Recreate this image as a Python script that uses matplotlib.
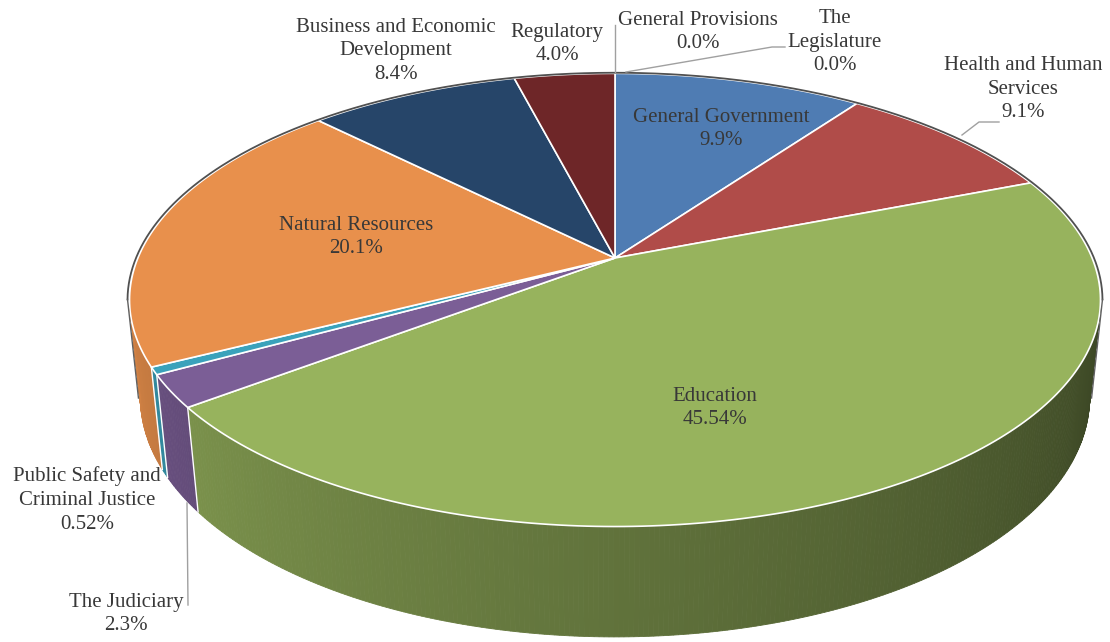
import numpy as np
import matplotlib.pyplot as plt
from matplotlib.patches import Polygon

# Udziały poszczególnych obszarów (kolejność zgodnie z ruchem wskazówek zegara od góry)
categories = ['General Government', 'Health and Human Services', 'Education',
              'The Judiciary', 'Public Safety and Criminal Justice', 'Natural Resources',
              'Business and Economic Development', 'Regulatory', 'General Provisions',
              'The Legislature']
shares = [9.9, 9.1, 45.54, 2.3, 0.52, 20.1, 8.4, 4.0, 0.0, 0.0]
pct_labels = ['9.9%', '9.1%', '45.54%', '2.3%', '0.52%', '20.1%', '8.4%', '4.0%', '0.0%', '0.0%']
label_names = ['General Government', 'Health and Human\nServices', 'Education',
               'The Judiciary', 'Public Safety and\nCriminal Justice', 'Natural Resources',
               'Business and Economic\nDevelopment', 'Regulatory', 'General Provisions',
               'The\nLegislature']
colors = ['#4f7cb3', '#b04c49', '#97b35d', '#7b5e96', '#3aa2bb', '#e8904c',
          '#264569', '#6e2628', '#8064a2', '#4bacc6']

# pozycje etykiet (środek bloku tekstu, w pikselach)
label_pos = [(721, 129), (1023, 89), (715, 408), (126, 614), (87, 500), (356, 237),
             (396, 51), (557, 44), (698, 32), (835, 42)]

W, H = 1110, 642
fig = plt.figure(figsize=(11.1, 6.42), dpi=100)
ax = fig.add_axes([0, 0, 1, 1])
ax.set_xlim(0, W)
ax.set_ylim(H, 0)
ax.axis('off')

# parametry rzutu perspektywicznego
CX, CY = 615, 258
FOC, DIST = 2290, 4.8
TILT = np.radians(27.3)
THICK = 0.232
SA, CA = np.sin(TILT), np.cos(TILT)


def project(theta, z=0.0, r=1.0):
    t = np.radians(theta)
    u = r * np.sin(t)
    v = r * np.cos(t)
    depth = DIST + v * CA - z * SA
    yy = v * SA + z * CA
    return CX + FOC * u / depth, CY - FOC * yy / depth


def shade(theta):
    return 0.38 + (theta - 100) / 160 * 0.52


total = sum(shares)
bounds = np.concatenate([[0], np.cumsum(shares) / total * 360])
VIS0, VIS1 = 100.5, 259.5

# boczne ściany
for i in range(len(shares)):
    t0, t1 = max(bounds[i], VIS0), min(bounds[i + 1], VIS1)
    if t1 <= t0:
        continue
    n = max(2, int((t1 - t0) / 0.5) + 1)
    ts = np.linspace(t0, t1, n)
    base = np.array(plt.matplotlib.colors.to_rgb(colors[i]))
    for a, b in zip(ts[:-1], ts[1:]):
        pts = [project(a), project(b), project(b, -THICK), project(a, -THICK)]
        c = np.clip(base * shade((a + b) / 2), 0, 1)
        ax.add_patch(Polygon(pts, closed=True, facecolor=c, edgecolor=c, lw=0.6))

for b in bounds:
    if VIS0 < b < VIS1:
        x0, y0 = project(b)
        x1, y1 = project(b, -THICK)
        ax.plot([x0, x1], [y0, y1], color='white', lw=1.0)

# obrys tylnej krawędzi i sylwetki
tb = np.linspace(-VIS0, VIS0, 300)
xb, yb = project(tb, r=1.004)
ax.plot(xb, yb, color='#505050', lw=1.3)
for t in (VIS0, VIS1):
    x0, y0 = project(t, r=1.004)
    x1, y1 = project(t, -THICK, r=1.004)
    ax.plot([x0, x1], [y0, y1], color='#606060', lw=1.0)

# wierzch wykresu
for i in range(len(shares)):
    if shares[i] <= 0:
        continue
    ts = np.linspace(bounds[i], bounds[i + 1], max(3, int(shares[i] * 4)))
    xs, ys = project(ts)
    pts = [(CX, CY)] + list(zip(xs, ys))
    ax.add_patch(Polygon(pts, closed=True, facecolor=colors[i], edgecolor='white', lw=1.2))

# linie odniesienia
lc = '#a0a0a0'
ax.plot([615, 615], [25, 72], color=lc, lw=1)
ax.plot([626, 772, 785], [72, 47, 47], color=lc, lw=1)
ax.plot([962, 979, 999], [135, 122, 122], color=lc, lw=1)
ax.plot([187, 188], [503, 605], color=lc, lw=1)

for i in range(len(shares)):
    x, y = label_pos[i]
    ax.text(x, y, label_names[i] + '\n' + pct_labels[i], ha='center', va='center',
            fontsize=15, family='Liberation Serif', color='#383838', linespacing=1.33)

fig.savefig('out.png', dpi=100)
